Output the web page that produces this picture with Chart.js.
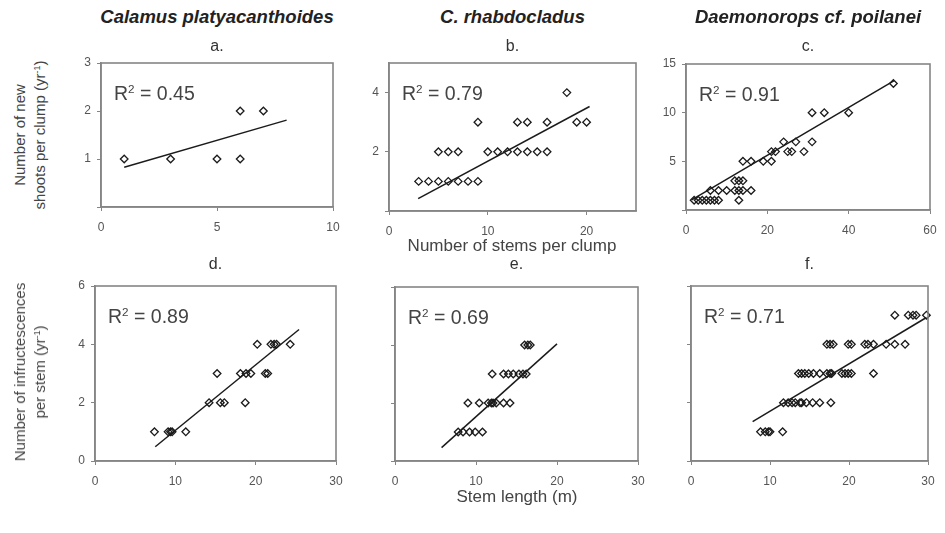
<!DOCTYPE html>
<html>
<head>
<meta charset="utf-8">
<script src="https://cdn.jsdelivr.net/npm/chart.js@4.4.0/dist/chart.umd.min.js"></script>
<style>
  body { margin: 0; background: #fff; }
  #page { position: relative; width: 945px; height: 533px; overflow: hidden; font-family: 'Liberation Sans', Arial, sans-serif; color: #444; }
  canvas { position: absolute; }
  .t { position: absolute; white-space: nowrap; transform: translate(-50%, -50%); }
  .species { font-weight: bold; font-style: italic; font-size: 18.5px; color: #222; }
  .letter { font-size: 16px; color: #333; }
  .r2 { font-size: 19.5px; color: #444; transform: translate(0, -50%); }
  .r2 sup, .ytitle sup { font-size: 60%; vertical-align: 0.55em; line-height: 0; }
  .xtitle { font-size: 17px; color: #444; }
  .ytitle { font-size: 15px; color: #444; text-align: center; line-height: 20px; transform: translate(-50%, -50%) rotate(-90deg); }
</style>
</head>
<body>
<div id="page">
  <canvas id="pa"></canvas><canvas id="pb"></canvas><canvas id="pc"></canvas>
  <canvas id="pd"></canvas><canvas id="pe"></canvas><canvas id="pf"></canvas>
</div>
<script>
// Judul dan label
const speciesNames = ['Calamus platyacanthoides', 'C. rhabdocladus', 'Daemonorops cf. poilanei'];
const panelLetters = ['a.', 'b.', 'c.', 'd.', 'e.', 'f.'];
const rSquared = ['0.45', '0.79', '0.91', '0.89', '0.69', '0.71'];

// Baris atas: tunas baru per rumpun vs jumlah batang per rumpun
const stemsA = [1, 3, 5, 6, 6, 7];
const shootsA = [1, 1, 1, 1, 2, 2];
const stemsB = [3, 4, 5, 6, 7, 8, 9, 5, 6, 7, 10, 11, 12, 13, 14, 15, 16, 9, 13, 14, 16, 19, 20, 18];
const shootsB = [1, 1, 1, 1, 1, 1, 1, 2, 2, 2, 2, 2, 2, 2, 2, 2, 2, 3, 3, 3, 3, 3, 3, 4];
const stemsC = [2, 3, 4, 5, 6, 7, 8, 13, 6, 8, 10, 12, 13, 14, 16, 12, 13, 14, 14, 16, 19, 21,
                21, 22, 25, 26, 29, 24, 27, 31, 31, 34, 40, 51];
const shootsC = [1, 1, 1, 1, 1, 1, 1, 1, 2, 2, 2, 2, 2, 2, 2, 3, 3, 3, 5, 5, 5, 5,
                 6, 6, 6, 6, 6, 7, 7, 7, 10, 10, 10, 13];

// Baris bawah: infruktesens per batang vs panjang batang
const lengthD = [7.4, 9.1, 9.4, 9.6, 11.3, 14.2, 15.6, 16.1, 18.7, 15.2, 18.1, 18.8, 19.4, 21.2, 21.5,
                 20.2, 21.9, 22.3, 22.6, 24.3];
const infrD = [1, 1, 1, 1, 1, 2, 2, 2, 2, 3, 3, 3, 3, 3, 3, 4, 4, 4, 4, 4];
const lengthE = [7.8, 8.4, 9.2, 9.9, 10.8, 9.0, 10.4, 11.5, 11.9, 12.1, 12.5, 13.4, 14.2,
                 12.0, 13.4, 14.0, 14.6, 15.3, 15.8, 16.2, 16.0, 16.4, 16.7];
const infrE = [1, 1, 1, 1, 1, 2, 2, 2, 2, 2, 2, 2, 2, 3, 3, 3, 3, 3, 3, 3, 4, 4, 4];
const lengthF = [8.8, 9.4, 9.8, 10.0, 11.6,
                 11.7, 12.3, 12.8, 13.2, 13.8, 14.0, 14.6, 15.4, 16.3, 17.7,
                 13.6, 14.0, 14.4, 14.9, 15.5, 16.3, 17.2, 17.6, 17.8, 19.1, 19.5, 19.9, 20.3, 23.1,
                 17.2, 17.6, 18.0, 19.9, 20.3, 22.0, 22.4, 23.1, 24.7, 25.8, 27.1,
                 25.8, 27.5, 28.1, 28.5, 29.8];
const infrF = [1, 1, 1, 1, 1,
               2, 2, 2, 2, 2, 2, 2, 2, 2, 2,
               3, 3, 3, 3, 3, 3, 3, 3, 3, 3, 3, 3, 3, 3,
               4, 4, 4, 4, 4, 4, 4, 4, 4, 4, 4,
               5, 5, 5, 5, 5];

// Garis tren (ujung-ujung)
const trendXA = [1.0, 8.0],   trendYA = [0.83, 1.81];
const trendXB = [2.95, 20.3], trendYB = [0.42, 3.53];
const trendXC = [1.4, 51.2],  trendYC = [1.03, 13.3];
const trendXD = [7.5, 25.4],  trendYD = [0.49, 4.51];
const trendXE = [5.75, 20.0], trendYE = [0.46, 4.04];
const trendXF = [7.8, 29.8],  trendYF = [1.35, 4.92];

// Tick
const xTicksA = [0, 5, 10];
const xTicksB = [0, 10, 20];
const xTicksC = [0, 20, 40, 60];
const xTicksBottom = [0, 10, 20, 30];
const yTicksA = [0, 1, 2, 3], yLabelsA = [1, 2, 3];
const yTicksB = [0, 2, 4], yLabelsB = [2, 4];
const yTicksC = [0, 5, 10, 15], yLabelsC = [5, 10, 15];
const yTicksBottom = [0, 2, 4, 6], yLabelsD = [0, 2, 4, 6];

// Posisi area plot tiap panel: [kiri, atas, kanan, bawah]
const boxes = {
  pa: [101, 63, 333, 207], pb: [389, 63, 636, 211], pc: [686, 64, 930, 210],
  pd: [95, 286, 336, 461], pe: [395, 287, 638, 461], pf: [691, 286, 928, 461]
};
const letterY = [46, 46, 46, 264, 264, 264];
const PAD_L = 48, PAD_T = 14, PAD_R = 22, PAD_B = 40;
const GRAY = '#858585';

const page = document.getElementById('page');

function addText(cls, html, x, y) {
  const el = document.createElement('div');
  el.className = 't ' + cls;
  el.innerHTML = html;
  el.style.left = x + 'px';
  el.style.top = y + 'px';
  page.appendChild(el);
}

// Bingkai area plot
const framePlugin = {
  id: 'frame',
  afterDraw(chart) {
    const a = chart.chartArea, ctx = chart.ctx;
    ctx.save();
    ctx.strokeStyle = GRAY;
    ctx.lineWidth = 1.6;
    ctx.strokeRect(a.left, a.top, a.right - a.left, a.bottom - a.top);
    ctx.restore();
  }
};

function toPoints(xs, ys) {
  return xs.map((x, i) => ({ x: x, y: ys[i] }));
}

function makePanel(id, xs, ys, tx, ty, ax) {
  const b = boxes[id];
  const w = b[2] - b[0], h = b[3] - b[1];
  const cv = document.getElementById(id);
  cv.style.left = (b[0] - PAD_L) + 'px';
  cv.style.top = (b[1] - PAD_T) + 'px';
  cv.width = w + PAD_L + PAD_R;
  cv.height = h + PAD_T + PAD_B;

  const tickFont = { family: "'Liberation Sans', Arial, sans-serif", size: 12 };

  new Chart(cv.getContext('2d'), {
    type: 'scatter',
    data: {
      datasets: [{
        data: toPoints(xs, ys),
        pointStyle: 'rectRot',
        pointRadius: 3.8,
        pointBorderWidth: 1.3,
        pointBorderColor: '#1b1b1b',
        pointBackgroundColor: 'rgba(0,0,0,0)',
        clip: 8
      }, {
        type: 'line',
        data: toPoints(tx, ty),
        borderColor: '#1b1b1b',
        borderWidth: 1.5,
        pointRadius: 0,
        fill: false,
        clip: 8
      }]
    },
    options: {
      responsive: false,
      animation: false,
      events: [],
      layout: { padding: { left: 0, top: PAD_T, right: PAD_R, bottom: 0 } },
      plugins: { legend: { display: false }, tooltip: { enabled: false } },
      scales: {
        x: {
          type: 'linear', min: ax.xMin, max: ax.xMax,
          afterBuildTicks: s => { s.ticks = ax.xTicks.map(v => ({ value: v })); },
          afterFit: s => { s.height = PAD_B; },
          grid: { display: true, drawOnChartArea: false, drawTicks: true, tickLength: 4, color: GRAY },
          border: { display: true, color: GRAY, width: 1.6 },
          ticks: { font: tickFont, color: '#555', padding: 9, maxRotation: 0,
                   callback: v => String(v) }
        },
        y: {
          type: 'linear', min: ax.yMin, max: ax.yMax,
          afterBuildTicks: s => { s.ticks = ax.yTicks.map(v => ({ value: v })); },
          afterFit: s => { s.width = PAD_L; },
          grid: { display: true, drawOnChartArea: false, drawTicks: true, tickLength: 4, color: GRAY },
          border: { display: true, color: GRAY, width: 1.6 },
          ticks: { font: tickFont, color: '#555', padding: 6,
                   callback: v => ax.yLabels.includes(v) ? String(v) : '' }
        }
      }
    },
    plugins: [framePlugin]
  });
}

makePanel('pa', stemsA, shootsA, trendXA, trendYA,
  { xMin: 0, xMax: 10, xTicks: xTicksA, yMin: 0, yMax: 3, yTicks: yTicksA, yLabels: yLabelsA });
makePanel('pb', stemsB, shootsB, trendXB, trendYB,
  { xMin: 0, xMax: 25, xTicks: xTicksB, yMin: 0, yMax: 5, yTicks: yTicksB, yLabels: yLabelsB });
makePanel('pc', stemsC, shootsC, trendXC, trendYC,
  { xMin: 0, xMax: 60, xTicks: xTicksC, yMin: 0, yMax: 15, yTicks: yTicksC, yLabels: yLabelsC });
makePanel('pd', lengthD, infrD, trendXD, trendYD,
  { xMin: 0, xMax: 30, xTicks: xTicksBottom, yMin: 0, yMax: 6, yTicks: yTicksBottom, yLabels: yLabelsD });
makePanel('pe', lengthE, infrE, trendXE, trendYE,
  { xMin: 0, xMax: 30, xTicks: xTicksBottom, yMin: 0, yMax: 6, yTicks: yTicksBottom, yLabels: [] });
makePanel('pf', lengthF, infrF, trendXF, trendYF,
  { xMin: 0, xMax: 30, xTicks: xTicksBottom, yMin: 0, yMax: 6, yTicks: yTicksBottom, yLabels: [] });

// Teks: judul spesies, huruf panel, R2, judul sumbu
const ids = ['pa', 'pb', 'pc', 'pd', 'pe', 'pf'];
speciesNames.forEach((name, i) => {
  const b = boxes[ids[i]];
  addText('species', name, (b[0] + b[2]) / 2, 17);
});
panelLetters.forEach((letter, i) => {
  const b = boxes[ids[i]];
  addText('letter', letter, (b[0] + b[2]) / 2, letterY[i]);
});
rSquared.forEach((r, i) => {
  const b = boxes[ids[i]];
  addText('r2', 'R<sup>2</sup> = ' + r, b[0] + 13, b[1] + 30);
});
addText('xtitle', 'Number of stems per clump', 512, 246);
addText('xtitle', 'Stem length (m)', 517, 497);
addText('ytitle', 'Number of new<br>shoots per clump (yr<sup>-1</sup>)', 30, 135);
addText('ytitle', 'Number of infructescences<br>per stem (yr<sup>-1</sup>)', 30, 372);
</script>
</body>
</html>
